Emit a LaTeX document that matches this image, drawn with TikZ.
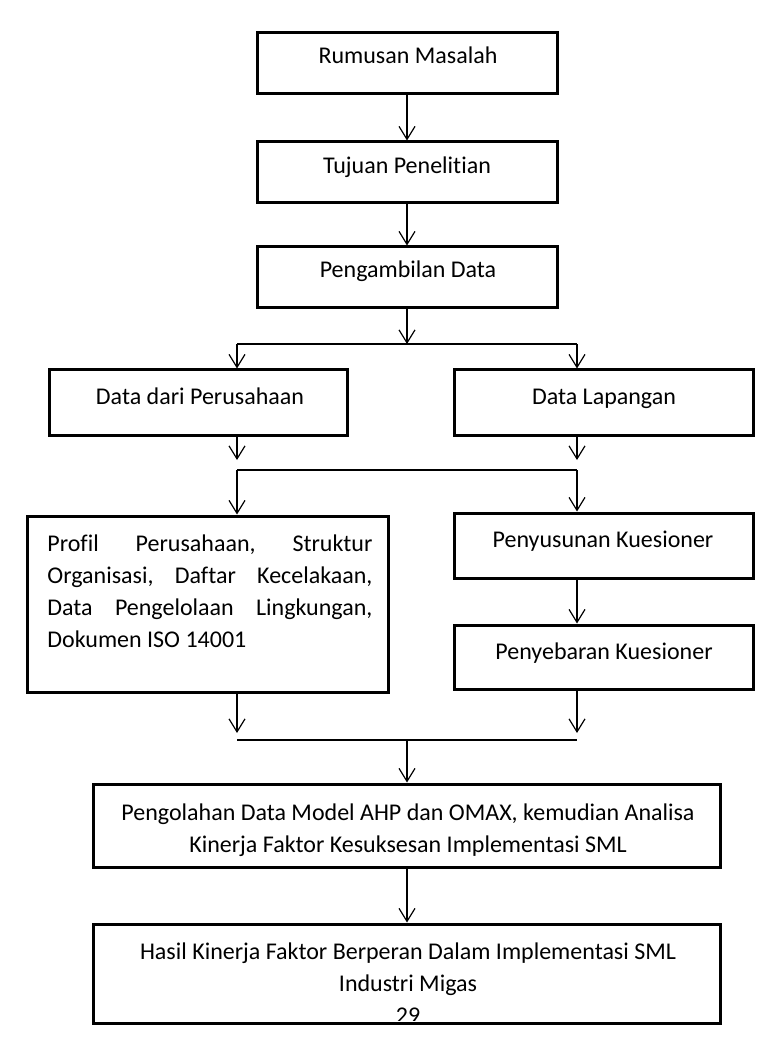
\documentclass[tikz,border=0pt]{standalone}
\usepackage{fontspec}
\setmainfont{Carlito}[Ligatures=NoCommon]
\usetikzlibrary{arrows.meta,fit}
\begin{document}
\begin{tikzpicture}[x=0.5pt,y=-0.5pt,
  box/.style={draw,line width=1.5pt,inner sep=0pt},
  lbl/.style={font=\fontsize{12}{16}\selectfont,inner sep=0pt,anchor=base},
  arr/.style={line width=0.6pt,-{Straight Barb[length=6.5pt,width=8pt,line width=0.6pt]}},
  ln/.style={line width=0.6pt}]
\useasboundingbox (0,0) rectangle (779,1063);

% boxes
\node[box,fit={(257,33) (557,94)}] (b1) {};
\node[box,fit={(257,142) (557,203)}] (b2) {};
\node[box,fit={(257,247) (557,308)}] (b3) {};
\node[box,fit={(49,370) (347,435)}] (dp) {};
\node[box,fit={(454,370) (753,435)}] (dl) {};
\node[box,fit={(27,516) (388,692)}] (pr) {};
\node[box,fit={(454,513) (753,578)}] (ps) {};
\node[box,fit={(454,625) (753,689)}] (pb) {};
\node[box,fit={(93,784) (720,867)}] (po) {};
\node[box,fit={(93,924) (720,1023)}] (ha) {};

% texts
\node[lbl] (t1) at (408,64) {Rumusan Masalah};
\node[lbl] (t2) at (407,174) {Tujuan Penelitian};
\node[lbl] (t3) at (408,278) {Pengambilan Data};
\node[lbl] (tdp) at (200,404) {Data dari Perusahaan};
\node[lbl] (tdl) at (604,404) {Data Lapangan};
\node[lbl] (tps) at (603,547) {Penyusunan Kuesioner};
\node[lbl] (tpb) at (604,659) {Penyebaran Kuesioner};
\node[lbl,anchor=base west] (tpr) at (47,551) {\parbox[t]{162.5pt}{\baselineskip=16pt
  Profil\hfill Perusahaan,\hfill Struktur\\
  Organisasi,\hfill Daftar\hfill Kecelakaan,\\
  Data\hfill Pengelolaan\hfill Lingkungan,\\
  Dokumen ISO 14001}};
\node[lbl] (tpo) at (408,820) {\parbox[t]{320pt}{\centering\baselineskip=16pt
  Pengolahan Data Model AHP dan OMAX, kemudian Analisa\\
  Kinerja Faktor Kesuksesan Implementasi SML}};
\begin{scope}
\clip (93,924) rectangle (720,1020);
\node[lbl] (tha) at (408,959) {\parbox[t]{320pt}{\centering\baselineskip=16pt
  Hasil Kinerja Faktor Berperan Dalam Implementasi SML\\
  Industri Migas\\
  29}};
\end{scope}

% junction coordinates
\coordinate (j1) at (407,344);
\coordinate (j1l) at (237,344);
\coordinate (j1r) at (577,344);
\coordinate (j2l) at (237,470);
\coordinate (j2r) at (577,470);
\coordinate (a2l) at (237,460);
\coordinate (a2r) at (577,460);
\coordinate (j3l) at (237,740);
\coordinate (j3r) at (577,740);
\coordinate (j3) at (407,740);
\coordinate (a3l) at (237,733);
\coordinate (a3r) at (577,733);

% connectors
\draw[arr] (b1.south) -- (b2.north);
\draw[arr] (b2.south) -- (b3.north);
\draw[arr] (b3.south) -- (j1);
\draw[ln] (j1l) -- (j1r);
\draw[arr] (j1l) -- (j1l |- dp.north);
\draw[arr] (j1r) -- (j1r |- dl.north);
\draw[arr] (a2l |- dp.south) -- (a2l);
\draw[arr] (a2r |- dl.south) -- (a2r);
\draw[ln] (j2l) -- (j2r);
\draw[arr] (j2l) -- (j2l |- pr.north);
\draw[arr] (j2r) -- (j2r |- ps.north);
\draw[arr] (ps.south -| j2r) -- (pb.north -| j2r);
\draw[arr] (a3l |- pr.south) -- (a3l);
\draw[arr] (a3r |- pb.south) -- (a3r);
\draw[ln] (j3l) -- (j3r);
\draw[arr] (j3) -- (j3 |- po.north);
\draw[arr] (po.south -| j3) -- (ha.north -| j3);
\end{tikzpicture}
\end{document}
